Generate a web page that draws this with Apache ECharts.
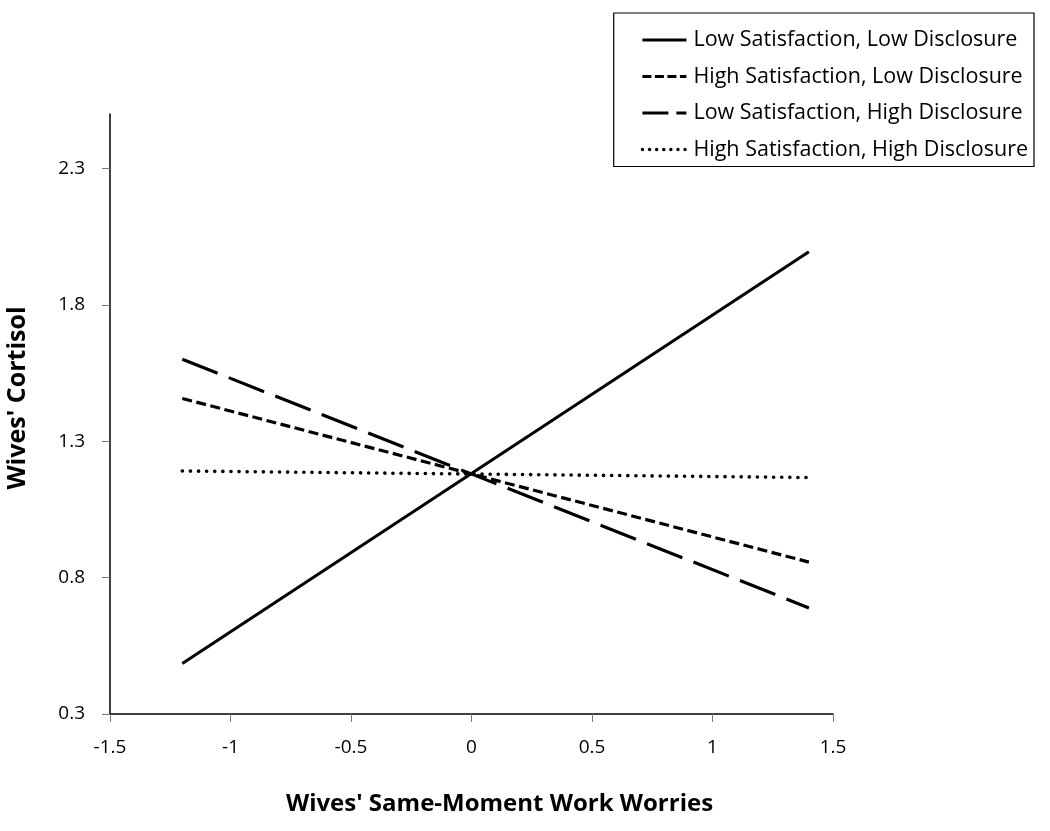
<!DOCTYPE html>
<html>
<head>
<meta charset="utf-8">
<script src="https://cdn.jsdelivr.net/npm/echarts@6/dist/echarts.min.js"></script>
<style>
  html, body { margin: 0; padding: 0; background: #fff; }
  #chart { width: 1050px; height: 831px; }
</style>
</head>
<body>
<div id="chart"></div>
<script>
// x positions of the two line ends
const xEnds = [-1.2, 1.4];

// series names and values at each end
const seriesNames = [
  'Low Satisfaction, Low Disclosure',
  'High Satisfaction, Low Disclosure',
  'Low Satisfaction, High Disclosure',
  'High Satisfaction, High Disclosure'
];
const lowSatLowDis = [0.485, 1.995];
const highSatLowDis = [1.457, 0.857];
const lowSatHighDis = [1.601, 0.689];
const highSatHighDis = [1.191, 1.167];

// tick labels
const xTicks = [-1.5, -1, -0.5, 0, 0.5, 1, 1.5];
const yTicks = [0.3, 0.8, 1.3, 1.8, 2.3];

const FONT = 'Open Sans';

const chart = echarts.init(document.getElementById('chart'));

function pairs(vals) {
  return xEnds.map((x, i) => [x, vals[i]]);
}

// line styles: solid, short dash, long dash, dotted
const styles = [
  { type: 'solid', width: 3 },
  { type: [10, 4.5], width: 3.2 },
  { type: [38, 12], width: 3.2 },
  { type: [0.1, 8], width: 3.6, cap: 'round' }
];
// shorter patterns for the legend samples
const legendStyles = [
  { type: 'solid', width: 3 },
  { type: [9, 3.5], width: 3.2 },
  { type: [26, 8], width: 3.2 },
  { type: [0.1, 7], width: 3.4, cap: 'round' }
];
const values = [lowSatLowDis, highSatLowDis, lowSatHighDis, highSatHighDis];

chart.setOption({
  animation: false,
  backgroundColor: '#fff',
  grid: { left: 110, right: 217, top: 114, bottom: 117, outerBoundsMode: 'none' },
  legend: {
    orient: 'vertical',
    right: 16,
    top: 13,
    padding: [16, 6, 6, 27],
    itemWidth: 44,
    itemHeight: 14,
    itemGap: 14.5,
    borderColor: '#000',
    borderWidth: 1.2,
    borderRadius: 0,
    itemStyle: { opacity: 0 },
    textStyle: { fontFamily: FONT, fontSize: 21.5, color: '#000', padding: [0, 0, 0, 2] },
    data: seriesNames.map((name, i) => ({ name: name, lineStyle: legendStyles[i] }))
  },
  xAxis: {
    type: 'value',
    min: -1.5,
    max: 1.5,
    interval: 0.5,
    name: "Wives' Same-Moment Work Worries",
    nameLocation: 'middle',
    nameGap: 78,
    nameTextStyle: { fontFamily: FONT, fontSize: 24, fontWeight: 'bold', color: '#000', padding: [0, 0, 0, 56] },
    axisLine: { onZero: false, lineStyle: { color: '#000', width: 1.5 } },
    axisTick: { show: true, length: 8, lineStyle: { color: '#777', width: 1 } },
    axisLabel: {
      fontFamily: FONT, fontSize: 19, color: '#000', margin: 24,
      customValues: xTicks,
      formatter: v => String(v)
    },
    splitLine: { show: false }
  },
  yAxis: {
    type: 'value',
    min: 0.3,
    max: 2.5,
    interval: 0.5,
    name: "Wives' Cortisol",
    nameLocation: 'middle',
    nameGap: 80,
    nameTextStyle: { fontFamily: FONT, fontSize: 25, fontWeight: 'bold', color: '#000', padding: [0, 0, 0, 32] },
    axisLine: { show: true, onZero: false, lineStyle: { color: '#000', width: 1.5 } },
    axisTick: { show: true, length: 8, customValues: yTicks, lineStyle: { color: '#777', width: 1 } },
    axisLabel: {
      fontFamily: FONT, fontSize: 19, color: '#000', margin: 25,
      customValues: yTicks,
      formatter: v => v.toFixed(1)
    },
    splitLine: { show: false }
  },
  series: seriesNames.map((name, i) => ({
    name: name,
    type: 'line',
    symbol: 'none',
    data: pairs(values[i]),
    lineStyle: Object.assign({ color: '#000' }, styles[i]),
    itemStyle: { color: '#000' }
  }))
});
</script>
</body>
</html>
